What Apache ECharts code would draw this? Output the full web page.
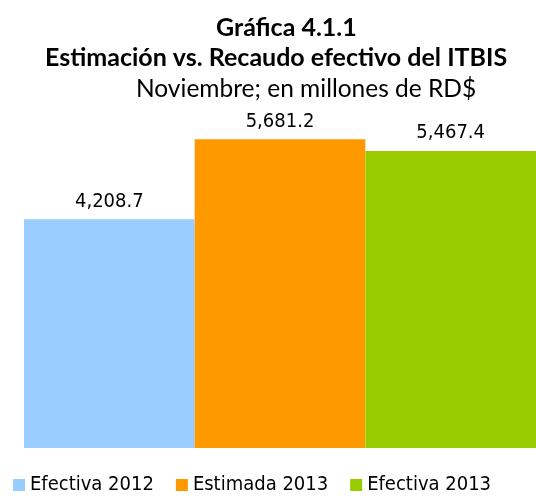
<!DOCTYPE html>
<html>
<head>
<meta charset="utf-8">
<script src="https://cdn.jsdelivr.net/npm/echarts@6/dist/echarts.min.js"></script>
<style>
  html, body { margin: 0; padding: 0; background: #fff; }
  #main { width: 536px; height: 496px; }
</style>
</head>
<body>
<div id="main"></div>
<script>
// datos de la gráfica
const categorias = ['Noviembre'];
const series = ['Efectiva 2012', 'Estimada 2013', 'Efectiva 2013'];
const valores = [4208.7, 5681.2, 5467.4];
const colores = ['#99CCFF', '#FF9900', '#99CC00'];

const fmt = v => v.toLocaleString('en-US', { minimumFractionDigits: 1, maximumFractionDigits: 1 });

const chart = echarts.init(document.getElementById('main'));
const option = {
  animation: false,
  title: [
    { text: 'Gráfica 4.1.1', left: 211, top: 10,
      textStyle: { fontFamily: 'Lato', fontWeight: 'bold', fontSize: 25, color: '#000' } },
    { text: 'Estimación vs. Recaudo efectivo del ITBIS', left: 40, top: 40,
      textStyle: { fontFamily: 'Lato', fontWeight: 'bold', fontSize: 25, color: '#000' } },
    { text: 'Noviembre; en millones de RD$', left: 131, top: 72,
      textStyle: { fontFamily: 'Lato', fontWeight: 'normal', fontSize: 24.5, color: '#000' } }
  ],
  legend: {
    top: 475,
    left: 13,
    padding: 0,
    itemWidth: 12,
    itemHeight: 12,
    itemGap: 22,
    icon: 'rect',
    textStyle: { fontFamily: 'DejaVu Sans Condensed', fontSize: 20, color: '#000' },
    data: series
  },
  grid: { left: 24, right: 0, top: 122, bottom: 48 },
  xAxis: {
    type: 'category',
    data: categorias,
    axisLine: { show: false },
    axisTick: { show: false },
    axisLabel: { show: false }
  },
  yAxis: {
    type: 'value',
    min: 0,
    max: 6000,
    show: false,
    splitLine: { show: false }
  },
  series: series.map((name, i) => ({
    name,
    type: 'bar',
    data: [valores[i]],
    barGap: 0,
    barCategoryGap: 0,
    itemStyle: { color: colores[i] },
    label: {
      show: true,
      position: 'top',
      distance: 8,
      formatter: p => fmt(p.value),
      fontFamily: 'DejaVu Sans Condensed',
      fontSize: 20,
      color: '#000'
    }
  }))
};
chart.setOption(option);
</script>
</body>
</html>
